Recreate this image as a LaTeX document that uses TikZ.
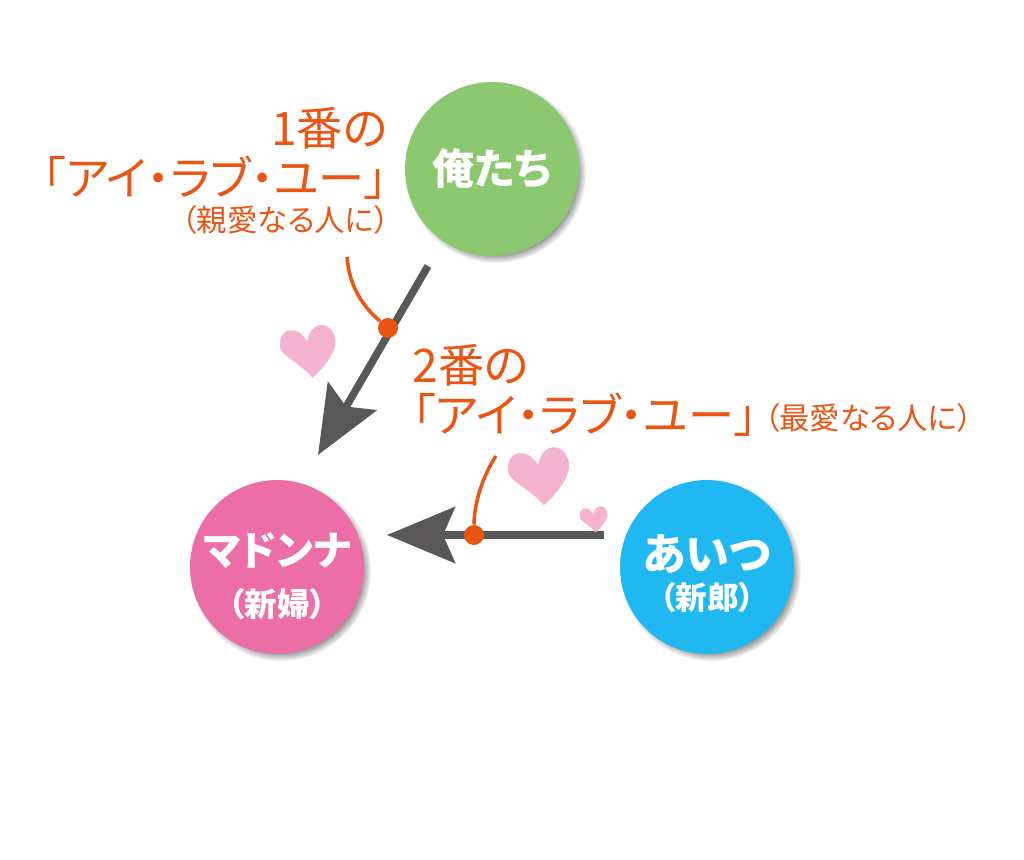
\documentclass[tikz,border=0pt]{standalone}
\usepackage{fontspec}
\usepackage{xcolor}
\setmainfont[RawFeature=+palt]{Noto Sans CJK JP}
\usetikzlibrary{arrows.meta,positioning,shadows}

\definecolor{ored}{HTML}{EA5514}
\definecolor{leaf}{HTML}{8CC86F}
\definecolor{rose}{HTML}{EC6EA6}
\definecolor{sky}{HTML}{1FB8F0}
\definecolor{slate}{HTML}{595757}
\definecolor{blush}{HTML}{F4B4D0}

\newcommand{\bigsize}{\fontsize{26.3}{30}\selectfont}
\newcommand{\smallsize}{\fontsize{17.3}{20}\selectfont}

\tikzset{
    heart/.pic={
        \fill[blush] (0,-12) .. controls (-4,-21) and (-10,-25) .. (-16,-25)
            .. controls (-24,-25) and (-28,-17) .. (-28,-10)
            .. controls (-28,-1) and (-9,10) .. (0,25)
            .. controls (11,18) and (28,3) .. (28,-10)
            .. controls (28,-18) and (23,-26) .. (15,-26)
            .. controls (8,-26) and (3,-21) .. (0,-12) -- cycle;
    }
}

\begin{document}
\begin{tikzpicture}[
    x=0.02cm, y=-0.02cm,
    person/.style={circle, minimum size=3.48cm, inner sep=-8pt, align=center,
                   text=white, font=\bfseries,
                   circular drop shadow={shadow xshift=0.07cm, shadow yshift=-0.07cm,
                                         shadow scale=1.04, fill=black!60}},
    loud/.style={text=ored, font=\bigsize, inner sep=0pt},
    quiet/.style={text=ored, font=\smallsize, inner sep=0pt},
    arrow/.style={-{Stealth[length=1.36cm, width=1.12cm, inset=0.24cm]}, slate, line width=0.15cm},
    lead/.style={ored, line width=0.07cm},
    dot/.style={circle, fill=ored, minimum size=0.4cm, inner sep=0pt}
]
\useasboundingbox (0,0) rectangle (1024,859);

\node[person, fill=leaf] (ore) at (492,169) {\fontsize{24}{27}\selectfont 俺たち};
\node[person, fill=rose] (madonna) at (277,567) {\fontsize{23}{24}\selectfont\rule{0pt}{29pt}マドンナ\\[10pt]\fontsize{18.5}{20}\selectfont （新婦）};
\node[person, fill=sky] (aitsu) at (707,567) {\fontsize{25}{26}\selectfont\rule{0pt}{28pt}あいつ\\[4pt]\fontsize{18}{20}\selectfont （新郎）};

% text beside the top arrow
\node[loud, anchor=east] (first) at (388,128) {1番の};
\node[loud, anchor=east] (firstlove) at (388,178) {「アイ・ラブ・ユー」};
\node[quiet, anchor=east] (firstnote) at (390,220) {（親愛なる人に）};

% text beside the lower arrow
\node[loud, anchor=west] (second) at (412,365) {2番の};
\node[loud, anchor=west] (secondlove) at (412,415) {「アイ・ラブ・ユー」\kern-8pt};
\node[quiet, anchor=west] (secondnote) at (764,418) {（最愛なる人に）};

\coordinate (topstart) at (428,266);
\coordinate (toptip) at (318,455);
\coordinate (sidestart) at (604,535);
\coordinate (sidetip) at (387,535);
\coordinate (firstend) at (347,257);
\coordinate (secondend) at (496,456);

\draw[arrow] (topstart) -- (toptip);
\draw[arrow] (sidestart) -- (sidetip);

\node[dot] (firstdot) at (388,328) {};
\node[dot] (seconddot) at (474,535) {};

\draw[lead] (firstend) .. controls (349,285) and (362,306) .. (firstdot);
\draw[lead] (secondend) .. controls (482,477) and (474,505) .. (seconddot);

\pic[rotate=8] at (309,353) {heart};
\pic[rotate=8, scale=1.1] at (540,478) {heart};
\pic[rotate=6, scale=0.5] at (594,520) {heart};
\end{tikzpicture}
\end{document}
